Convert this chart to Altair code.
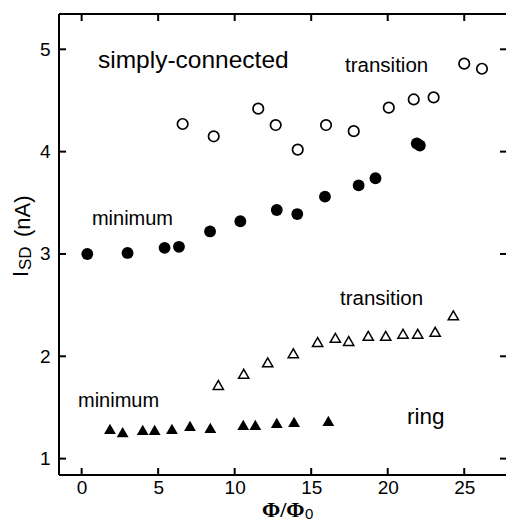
import altair as alt
import pandas as pd

FONT = "Liberation Sans"
SERIF = "Liberation Serif"

# ---- data ----
sc_trans_x = [6.6, 8.63, 11.54, 12.68, 14.12, 15.97, 17.78, 20.07, 21.7, 23.0, 25.0, 26.16]
sc_trans_y = [4.27, 4.15, 4.42, 4.26, 4.02, 4.26, 4.20, 4.43, 4.51, 4.53, 4.86, 4.81]

sc_min_x = [0.37, 3.0, 5.42, 6.36, 8.39, 10.37, 12.75, 14.09, 15.9, 18.1, 19.2, 21.9, 22.1]
sc_min_y = [3.0, 3.01, 3.06, 3.07, 3.22, 3.32, 3.43, 3.39, 3.56, 3.67, 3.74, 4.08, 4.06]

ring_trans_x = [8.93, 10.59, 12.16, 13.83, 15.42, 16.58, 17.45, 18.73, 19.87, 21.0, 21.96, 23.1, 24.29]
ring_trans_y = [1.72, 1.83, 1.94, 2.03, 2.14, 2.18, 2.15, 2.20, 2.20, 2.22, 2.22, 2.24, 2.40]

ring_min_x = [1.85, 2.68, 3.99, 4.77, 5.9, 7.08, 8.41, 10.56, 11.35, 12.75, 13.88, 16.12]
ring_min_y = [1.29, 1.26, 1.28, 1.28, 1.29, 1.32, 1.30, 1.33, 1.33, 1.35, 1.36, 1.37]

label_text = ["simply-connected", "transition", "minimum", "transition", "minimum", "ring"]
label_x = [1.07, 17.21, 0.67, 16.88, -0.24, 21.26]
label_y = [4.814, 4.78, 3.284, 2.5, 1.507, 1.334]
label_size = [24.5, 20.5, 20, 20.5, 20, 22.5]

x_ticks = [0, 5, 10, 15, 20, 25]
y_ticks = [1, 2, 3, 4, 5]
x_domain = [-1.48, 27.73]
y_domain = [0.84, 5.345]

W, H = 447, 461
TL = 7  # tick length (style)

xs = alt.Scale(domain=x_domain, nice=False, zero=False)
ys = alt.Scale(domain=y_domain, nice=False, zero=False)


def df(xv, yv):
    return pd.DataFrame({"x": xv, "y": yv})


ax_x_labels = alt.Axis(orient="bottom", values=x_ticks, format="d", ticks=False, tickSize=0,
                       domain=False, grid=False, labelFontSize=19, labelFont=FONT,
                       labelColor="black", labelPadding=3, labelFlush=False,
                       labelOverlap=False, title=None)
ax_y_labels = alt.Axis(orient="left", values=y_ticks, format="d", ticks=False, tickSize=0,
                       domain=False, grid=False, labelFontSize=19, labelFont=FONT,
                       labelColor="black", labelPadding=9, labelOverlap=False, title=None)

open_circ = alt.Chart(df(sc_trans_x, sc_trans_y)).mark_point(
    shape="circle", filled=False, size=110, strokeWidth=1.7, color="black", opacity=1
).encode(x=alt.X("x:Q", scale=xs, axis=ax_x_labels), y=alt.Y("y:Q", scale=ys, axis=ax_y_labels))

fill_circ = alt.Chart(df(sc_min_x, sc_min_y)).mark_point(
    shape="circle", filled=True, size=140, color="black", opacity=1
).encode(x=alt.X("x:Q", scale=xs), y=alt.Y("y:Q", scale=ys))

open_tri = alt.Chart(df(ring_trans_x, ring_trans_y)).mark_point(
    shape="triangle-up", filled=False, size=105, strokeWidth=1.5, color="black", opacity=1
).encode(x=alt.X("x:Q", scale=xs), y=alt.Y("y:Q", scale=ys))

fill_tri = alt.Chart(df(ring_min_x, ring_min_y)).mark_point(
    shape="triangle-up", filled=True, size=140, color="black", opacity=1
).encode(x=alt.X("x:Q", scale=xs), y=alt.Y("y:Q", scale=ys))

one = pd.DataFrame({"k": [0]})
# plot frame: left, top and bottom edges (right edge lies outside the picture)
edge_left = alt.Chart(one).mark_rule(color="black", strokeWidth=2).encode(
    x=alt.value(0), y=alt.value(0), y2=alt.value(H))
edge_top = alt.Chart(one).mark_rule(color="black", strokeWidth=2).encode(
    x=alt.value(0), x2=alt.value(W), y=alt.value(0))
edge_bottom = alt.Chart(one).mark_rule(color="black", strokeWidth=2).encode(
    x=alt.value(0), x2=alt.value(W), y=alt.value(H))

# inward ticks
xt = pd.DataFrame({"v": x_ticks})
yt = pd.DataFrame({"v": y_ticks})
tick_b = alt.Chart(xt).mark_rule(color="black", strokeWidth=2).encode(
    x=alt.X("v:Q", scale=xs), y=alt.value(H - TL), y2=alt.value(H))
tick_t = alt.Chart(xt).mark_rule(color="black", strokeWidth=2).encode(
    x=alt.X("v:Q", scale=xs), y=alt.value(0), y2=alt.value(TL))
tick_l = alt.Chart(yt).mark_rule(color="black", strokeWidth=2).encode(
    y=alt.Y("v:Q", scale=ys), x=alt.value(0), x2=alt.value(TL))
tick_r = alt.Chart(yt).mark_rule(color="black", strokeWidth=2).encode(
    y=alt.Y("v:Q", scale=ys), x=alt.value(W - 6), x2=alt.value(W))

layers = [open_circ, fill_circ, open_tri, fill_tri,
          edge_left, edge_top, edge_bottom, tick_b, tick_t, tick_l, tick_r]

for t, lx, ly, fs in zip(label_text, label_x, label_y, label_size):
    layers.append(
        alt.Chart(pd.DataFrame({"x": [lx], "y": [ly], "t": [t]})).mark_text(
            align="left", baseline="alphabetic", font=FONT, fontSize=fs, color="black"
        ).encode(x=alt.X("x:Q", scale=xs), y=alt.Y("y:Q", scale=ys), text="t:N")
    )


def ptext(txt, px, py, fs, font=FONT, angle=0, weight="normal"):
    kw = dict(align="left", baseline="alphabetic", font=font, fontSize=fs, color="black",
              fontWeight=weight)
    if angle:
        kw["angle"] = angle
    return alt.Chart(pd.DataFrame({"t": [txt]})).mark_text(**kw).encode(
        x=alt.value(px), y=alt.value(py), text="t:N")


layers += [
    ptext("I", -31, 263, 22, angle=270),
    ptext("SD", -28, 256, 17, angle=270),
    ptext("(nA)", -29, 223, 22, angle=270),
    ptext("Φ/Φ", 203, 503, 22, font=SERIF, weight="bold"),
    ptext("0", 246, 505, 15),
]

chart = alt.layer(*layers).properties(
    width=W, height=H,
    autosize=alt.AutoSizeParams(type="none"),
    padding={"left": 51, "top": 6, "right": 0, "bottom": 49},
).configure(background="white").configure_view(stroke=None)

chart.save("out.html", embed_options={"renderer": "svg", "actions": False})
